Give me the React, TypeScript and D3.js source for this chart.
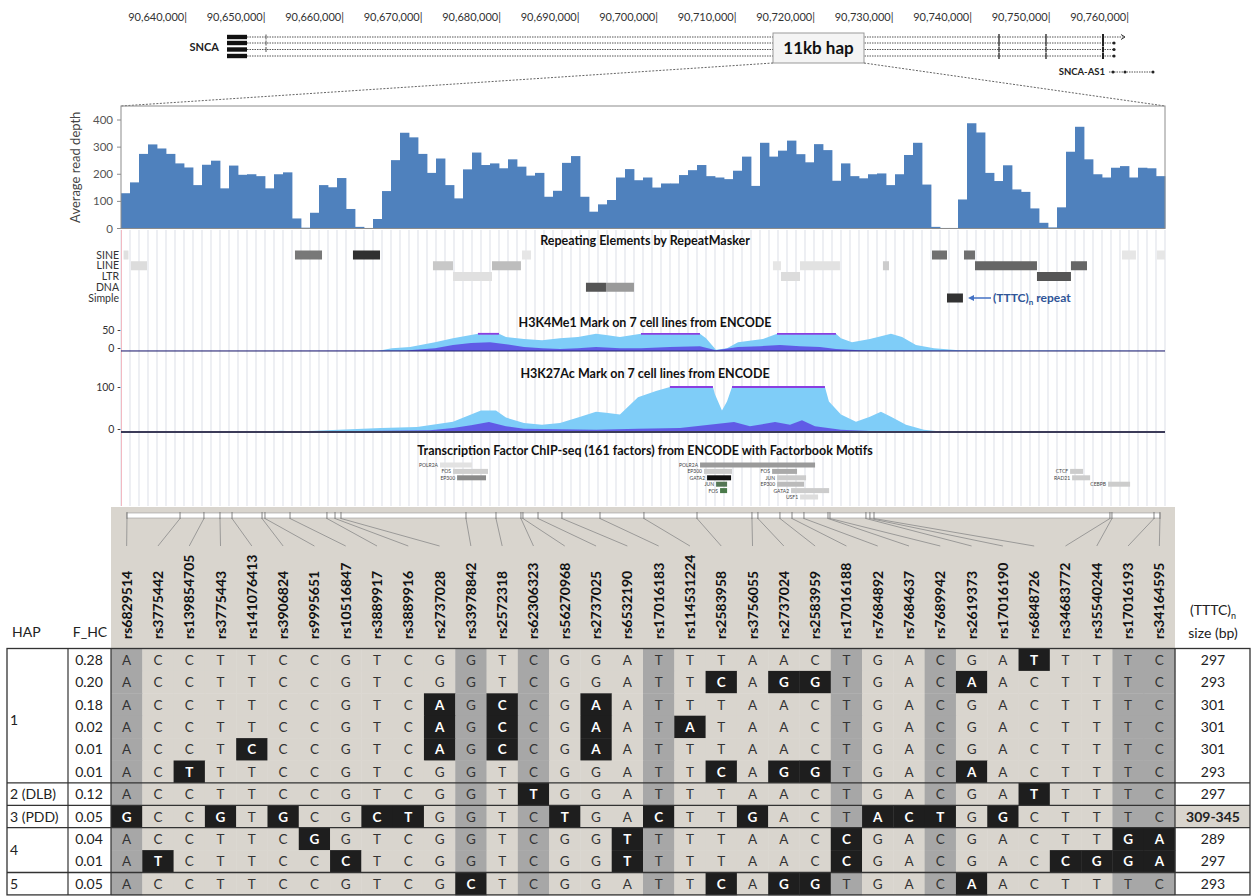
import React from 'react';
import * as d3 from 'd3';

const FONT = 'Lato, "Open Sans", "DejaVu Sans", sans-serif';
const W = 1251;
const H = 896;

// genome ruler (chr4)
const rulerTicks = [90640000, 90650000, 90660000, 90670000, 90680000, 90690000, 90700000,
  90710000, 90720000, 90730000, 90740000, 90750000, 90760000];
const geneLineY = [37, 43, 49.5, 56];
const sncaExon = [90645096, 90647643];
const sncaSmallTick = 90650064;
const sncaExons = [90743439, 90749427, 90756688];
const sncaEnds = [90759490, 90758089, 90758089, 90758089];
const sncaAs1 = [90757452, 90763057];
const sncaAs1Dots = [90757962, 90759490, 90763057];
const hapBox = [90714650, 90726242];

// average read depth, one bar per ~95 bp bin across the 11 kb window
const depth = [130, 170, 275, 310, 295, 275, 240, 225, 160, 235, 250, 148, 232, 198, 200, 193, 148, 200, 207, 37,
  3, 58, 160, 152, 186, 72, 6, 2, 35, 138, 252, 353, 336, 275, 205, 258, 160, 111, 218, 280,
  234, 240, 222, 255, 228, 195, 205, 117, 139, 242, 267, 117, 62, 89, 105, 188,
  219, 178, 188, 151, 166, 166, 197, 215, 234, 193, 188, 182, 213, 265, 157, 316, 265, 287, 324, 274,
  244, 311, 289, 176, 240, 193, 185, 200, 203, 160, 200, 271, 316, 162, 6, 2, 2, 107, 388, 354,
  205, 175, 233, 144, 135, 74, 21, 4, 78, 283, 375, 255, 200, 188, 224, 230, 188, 224, 222, 193];
const depthTicks = [0, 100, 200, 300, 400];

// RepeatMasker
const repeatClasses = ['SINE', 'LINE', 'LTR', 'DNA', 'Simple'];
const repeats: [string, number, number, string][] = [
  ['SINE', 27, 79, '#e0e0e0'], ['LINE', 105, 274, '#dcdcdc'], ['SINE', 1833, 2118, '#787878'],
  ['SINE', 2444, 2729, '#303030'], ['LINE', 3287, 3498, '#c8c8c8'], ['LTR', 3498, 3909, '#e0e0e0'],
  ['LINE', 3909, 4214, '#bdbdbd'], ['SINE', 4225, 4320, '#e6e6e6'], ['DNA', 4899, 5110, '#555555'],
  ['DNA', 5110, 5405, '#9a9a9a'], ['LINE', 6869, 6954, '#e6e6e6'], ['LTR', 6954, 7154, '#dcdcdc'],
  ['LINE', 7154, 7575, '#e2e2e2'], ['LINE', 8028, 8092, '#cccccc'], ['SINE', 8545, 8703, '#707070'],
  ['SINE', 8882, 8998, '#707070'], ['LINE', 8998, 9651, '#666666'], ['LTR', 9651, 10009, '#555555'],
  ['LINE', 10009, 10178, '#666666'], ['Simple', 8703, 8871, '#333333'], ['SINE', 10547, 10694, '#e6e6e6'],
  ['SINE', 10915, 11000, '#e6e6e6'],
];

// H3K4Me1 overlay (bp, signal)
const k4Light: [number, number][] = [[0, 0], [2700, 0], [2855, 7], [3045, 10], [3308, 22], [3498, 32], [3688, 40],
  [3761, 43], [3983, 43], [4056, 35], [4246, 30], [4436, 27], [4625, 32], [4815, 35], [5005, 43], [5110, 40],
  [5257, 35], [5479, 43], [6100, 43], [6164, 32], [6269, 3], [6385, 7], [6501, 22], [6764, 30], [6912, 43],
  [7533, 43], [7586, 32], [7702, 22], [7891, 30], [8113, 43], [8229, 35], [8376, 15], [8566, 7], [8829, 2],
  [9200, 1], [10000, 1], [11000, 0]];
const k4Dark: [number, number][] = [[0, 0.5], [3000, 1], [3308, 7], [3498, 15], [3688, 20], [3888, 22], [4056, 17],
  [4246, 10], [4436, 7], [4625, 5], [4815, 7], [5005, 10], [5257, 7], [5479, 7], [5784, 10], [6100, 12],
  [6269, 2], [6501, 10], [6733, 12], [6943, 15], [7154, 12], [7365, 10], [7533, 5], [7786, 2], [8000, 1],
  [11000, 0.5]];
const k4Clip = 43;

// H3K27Ac overlay
const k27Light: [number, number][] = [[0, 1], [1500, 1], [1686, 3], [1850, 1], [2739, 9], [3119, 11], [3498, 23],
  [3688, 39], [3793, 48], [3951, 48], [4056, 32], [4246, 20], [4436, 16], [4625, 20], [4815, 32], [5005, 45],
  [5110, 43], [5257, 39], [5447, 77], [5637, 91], [5784, 100], [6237, 100], [6258, 84], [6332, 48], [6385, 68],
  [6438, 100], [7417, 100], [7459, 68], [7586, 39], [7744, 23], [7891, 34], [8007, 45], [8113, 34], [8271, 16],
  [8460, 5], [8639, 1], [9500, 2], [10000, 1], [11000, 1]];
const k27Dark: [number, number][] = [[0, 2], [2500, 2], [3256, 4], [3498, 9], [3688, 15], [3877, 22], [4056, 13],
  [4246, 7], [4625, 6], [5005, 5], [5447, 7], [5890, 9], [6459, 22], [6627, 13], [6891, 22], [7049, 16],
  [7175, 26], [7312, 13], [7586, 5], [7891, 2], [11000, 1]];
const k27Clip = 100;

// TF ChIP-seq clusters: name, start, end, row, colour
const tfBars: [string, number, number, number, string][] = [
  ['POLR2A', 3361, 3699, 0, '#e2e2e2'], ['FOS', 3498, 3867, 1, '#cfcfcf'], ['EP300', 3541, 3846, 2, '#8a8a8a'],
  ['POLR2A', 6101, 7313, 0, '#9a9a9a'], ['EP300', 6143, 6438, 1, '#cccccc'], ['GATA2', 6175, 6428, 2, '#111111'],
  ['JUN', 6270, 6386, 3, '#557755'], ['FOS', 6312, 6386, 4, '#4a7a4a'], ['FOS', 6860, 7123, 1, '#aaaaaa'],
  ['JUN', 6913, 7218, 2, '#cccccc'], ['EP300', 6913, 7197, 3, '#bbbbbb'], ['GATA2', 7060, 7461, 4, '#cccccc'],
  ['USF1', 7155, 7345, 5, '#dddddd'], ['CTCF', 10000, 10137, 1, '#cccccc'], ['RAD21', 10021, 10211, 2, '#cccccc'],
  ['CEBPB', 10400, 10632, 3, '#cccccc'],
];

// SNPs of the 11 kb haplotype
const snpNames = ['rs6829514', 'rs3775442', 'rs139854705', 'rs3775443', 'rs141076413', 'rs3906824', 'rs9995651',
  'rs10516847', 'rs3889917', 'rs3889916', 'rs2737028', 'rs33978842', 'rs2572318', 'rs62306323', 'rs56270968',
  'rs2737025', 'rs6532190', 'rs17016183', 'rs114531224', 'rs2583958', 'rs3756055', 'rs2737024', 'rs2583959',
  'rs17016188', 'rs7684892', 'rs7684637', 'rs7689942', 'rs2619373', 'rs17016190', 'rs6848726', 'rs34683772',
  'rs35540244', 'rs17016193', 'rs34164595'];
const snpPos = [63, 622, 874, 1043, 1170, 1486, 1517, 1781, 2170, 2255, 2318, 3635, 3951, 4214, 4235, 4394, 4646,
  5047, 5510, 6069, 6648, 6711, 6943, 7070, 7196, 7449, 7470, 7849, 7891, 7934, 10420, 10441, 10884, 10947];
const shadedCols = [1, 12, 14, 18, 24, 27, 33, 34];

const hapFreq = ['0.28', '0.20', '0.18', '0.02', '0.01', '0.01', '0.12', '0.05', '0.04', '0.01', '0.05'];
const hapSeq = [
  'ACCTTCCGTCGGTCGGATTTAACTGACGATTTTC',
  'ACCTTCCGTCGGTCGGATTCAGGTGACAACTTTC',
  'ACCTTCCGTCAGCCGAATTTAACTGACGACTTTC',
  'ACCTTCCGTCAGCCGAATATAACTGACGACTTTC',
  'ACCTCCCGTCAGCCGAATTTAACTGACGACTTTC',
  'ACTTTCCGTCGGTCGGATTCAGGTGACAACTTTC',
  'ACCTTCCGTCGGTTGGATTTAACTGACGATTTTC',
  'GCCGTGCGCTGGTCTGACTTGACTACTGGCTTTC',
  'ACCTTCGGTCGGTCGGTTTTAACCGACGACTTGA',
  'ATCTTCCCTCGGTCGGTTTTAACCGACGACCGGA',
  'ACCTTCCGTCGCTCGGATTCAGGTGACAACTTTC',
];
const hapAlt = [
  [30], [20, 22, 23, 28], [11, 13, 16], [11, 13, 16, 19], [5, 11, 13, 16], [3, 20, 22, 23, 28],
  [14, 30], [1, 4, 6, 9, 10, 15, 18, 21, 25, 26, 27, 29], [7, 17, 24, 33, 34],
  [2, 8, 17, 24, 31, 32, 33, 34], [12, 20, 22, 23, 28],
];
const tttcSize = ['297', '293', '301', '301', '301', '293', '297', '309-345', '289', '297', '293'];
const hapGroups = [
  { label: '1', from: 0, to: 5 }, { label: '2 (DLB)', from: 6, to: 6 }, { label: '3 (PDD)', from: 7, to: 7 },
  { label: '4', from: 8, to: 9 }, { label: '5', from: 10, to: 10 },
];

const clipRuns = (pts: [number, number][], clip: number) => {
  const runs: [number, number][] = [];
  let start: number | null = null;
  pts.forEach((p, i) => {
    if (p[1] >= clip) {
      if (start === null) start = p[0];
      if (i === pts.length - 1 || pts[i + 1][1] < clip) {
        runs.push([start, p[0]]);
        start = null;
      }
    }
  });
  return runs;
};

const App = () => {
  const xr = d3.scaleLinear().domain([90640000, 90760000]).range([187, 1129]);
  const xg = d3.scaleLinear().domain([0, 11000]).range([121, 1165]);
  const xb = d3.scaleBand<number>().domain(d3.range(depth.length)).range([121, 1165]);
  const yb = d3.scaleLinear().domain([0, 400]).range([228.5, 120]);
  const k4y = d3.scaleLinear().domain([0, 50]).range([351, 331]);
  const k27y = d3.scaleLinear().domain([0, 100]).range([432, 387]);
  const repY = d3.scalePoint<string>().domain(repeatClasses).range([255, 298]);
  const tfY = d3.scaleLinear().domain([0, 5]).range([465, 497]);

  const tableTop = 648.5;
  const rowH = 22.4;
  const xc = d3.scaleBand<string>().domain(snpNames).range([111, 1175]);
  const rowY = (i: number) => tableTop + i * rowH;
  const tableBottom = rowY(hapSeq.length);

  const areaFn = (ys: d3.ScaleLinear<number, number>) =>
    d3.area<[number, number]>().x((d) => xg(d[0])).y0(ys(0)).y1((d) => ys(d[1]));

  const lightBlue = '#7fcdf8';
  const violet = '#5d4fe3';
  const clipColor = '#8a3fe0';
  const cellLight = '#d9d5ce';
  const cellDark = '#a7a7a7';

  return (
    <div style={{ position: 'absolute', left: 0, top: 0, background: '#fff' }}>
      <svg width={W} height={H} viewBox={`0 0 ${W} ${H}`} style={{ display: 'block', fontFamily: FONT }}>
        <rect x={0} y={0} width={W} height={H} fill="#fff" />

        {/* ruler */}
        {rulerTicks.map((t) => (
          <text key={t} x={xr(t)} y={21} fontSize={11} textAnchor="end" fill="#333">
            {d3.format(',')(t)}|
          </text>
        ))}

        {/* gene track */}
        <text x={219} y={51} fontSize={11} fontWeight="bold" textAnchor="end" fill="#222">SNCA</text>
        {geneLineY.map((y, i) => (
          <g key={y}>
            <line x1={xr(sncaExon[1])} x2={xr(sncaEnds[i])} y1={y} y2={y} stroke="#555" strokeWidth={1} strokeDasharray="1.5 1" />
            <rect x={xr(sncaExon[0])} y={y - 2.2} width={xr(sncaExon[1]) - xr(sncaExon[0])} height={4.4} fill="#111" />
            {i < 3 && <line x1={xr(sncaSmallTick)} x2={xr(sncaSmallTick)} y1={y - 2.5} y2={y + 2.5} stroke="#555" />}
            {sncaExons.map((e, j) => (
              <line key={e} x1={xr(e)} x2={xr(e)} y1={y - 3} y2={y + 3} stroke="#222" strokeWidth={j === 2 ? 2 : 1.3} />
            ))}
            {i === 0
              ? <path d={`M${xr(sncaEnds[i]) - 4},${y - 2.5} L${xr(sncaEnds[i])},${y} L${xr(sncaEnds[i]) - 4},${y + 2.5}`} fill="none" stroke="#333" />
              : <circle cx={xr(sncaEnds[i])} cy={y} r={1.6} fill="#222" />}
          </g>
        ))}
        <text x={xr(sncaAs1[0]) - 4} y={75} fontSize={9.5} fontWeight="bold" textAnchor="end" fill="#222">SNCA-AS1</text>
        <line x1={xr(sncaAs1[0])} x2={xr(sncaAs1[1])} y1={72} y2={72} stroke="#555" strokeDasharray="1.5 1" />
        {sncaAs1Dots.map((d) => <circle key={d} cx={xr(d)} cy={72} r={1.5} fill="#222" />)}

        {/* 11kb hap box and projection */}
        <rect x={xr(hapBox[0])} y={33} width={xr(hapBox[1]) - xr(hapBox[0])} height={30} fill="#f4f4f4" stroke="#999" />
        <text x={(xr(hapBox[0]) + xr(hapBox[1])) / 2} y={54} fontSize={17} fontWeight="bold" textAnchor="middle" fill="#111">11kb hap</text>
        <line x1={xr(hapBox[0])} y1={63} x2={xg(0)} y2={106} stroke="#666" strokeDasharray="2 1.5" />
        <line x1={xr(hapBox[1])} y1={63} x2={xg(11000)} y2={106} stroke="#666" strokeDasharray="2 1.5" />

        {/* read depth */}
        {depth.map((v, i) => (
          <rect key={i} x={xb(i)} y={yb(v)} width={xb.bandwidth() + 0.4} height={yb(0) - yb(v)} fill="#4f81bd" />
        ))}
        <rect x={121} y={106} width={1044} height={yb(0) - 106} fill="none" stroke="#8c8c8c" />
        {depthTicks.map((t) => (
          <g key={t}>
            <line x1={117} x2={121} y1={yb(t)} y2={yb(t)} stroke="#8c8c8c" />
            <text x={113} y={yb(t) + 4} fontSize={11.5} textAnchor="end" fill="#555">{t}</text>
          </g>
        ))}
        <text transform={`translate(80,${(106 + yb(0)) / 2}) rotate(-90)`} fontSize={13} textAnchor="middle" fill="#444">Average read depth</text>

        {/* browser guide lines */}
        {d3.range(depth.length + 1).map((i) => (
          <line key={i} x1={121 + i * xb.step()} x2={121 + i * xb.step()} y1={230} y2={506} stroke="#e2e4eb" strokeWidth={1.2} />
        ))}
        <line x1={121.5} x2={121.5} y1={230} y2={506} stroke="#f2b9c2" />

        {/* RepeatMasker */}
        <text x={645} y={245} fontSize={12.5} fontWeight="bold" textAnchor="middle" fill="#111">Repeating Elements by RepeatMasker</text>
        {repeatClasses.map((c) => (
          <text key={c} x={119} y={(repY(c) ?? 0) + 3.5} fontSize={10.5} textAnchor="end" fill="#333">{c}</text>
        ))}
        {repeats.map(([c, s, e, col], i) => (
          <rect key={i} x={xg(s)} y={(repY(c) ?? 0) - 4.5} width={xg(e) - xg(s)} height={9} fill={col} />
        ))}
        <line x1={991} x2={970} y1={298} y2={298} stroke="#4472c4" strokeWidth={1.5} />
        <path d="M968,298 L974,295 L974,301 Z" fill="#4472c4" />
        <text x={993} y={302} fontSize={12} fontWeight="bold" fill="#2f5597">
          (TTTC)<tspan fontSize={8} dy={3}>n</tspan><tspan dy={-3}> repeat</tspan>
        </text>

        {/* H3K4Me1 */}
        <text x={645} y={327} fontSize={12.5} fontWeight="bold" textAnchor="middle" fill="#111">H3K4Me1 Mark on 7 cell lines from ENCODE</text>
        <text x={121} y={k4y(50) + 3} fontSize={10.5} textAnchor="end" fill="#333">50 -</text>
        <text x={121} y={k4y(0) + 1} fontSize={10.5} textAnchor="end" fill="#333">0 -</text>
        <path d={areaFn(k4y)(k4Light) ?? ''} fill={lightBlue} />
        <path d={areaFn(k4y)(k4Dark) ?? ''} fill={violet} opacity={0.9} />
        {clipRuns(k4Light, k4Clip).map(([s, e], i) => (
          <line key={i} x1={xg(s)} x2={xg(e)} y1={k4y(k4Clip)} y2={k4y(k4Clip)} stroke={clipColor} strokeWidth={1.8} />
        ))}
        <line x1={121} x2={1165} y1={k4y(0)} y2={k4y(0)} stroke="#23236b" strokeWidth={1.2} />

        {/* H3K27Ac */}
        <text x={645} y={378} fontSize={12.5} fontWeight="bold" textAnchor="middle" fill="#111">H3K27Ac Mark on 7 cell lines from ENCODE</text>
        <text x={121} y={k27y(100) + 4} fontSize={10.5} textAnchor="end" fill="#333">100 -</text>
        <text x={121} y={k27y(0) + 1} fontSize={10.5} textAnchor="end" fill="#333">0 -</text>
        <path d={areaFn(k27y)(k27Light) ?? ''} fill={lightBlue} />
        <path d={areaFn(k27y)(k27Dark) ?? ''} fill={violet} opacity={0.9} />
        {clipRuns(k27Light, k27Clip).map(([s, e], i) => (
          <line key={i} x1={xg(s)} x2={xg(e)} y1={k27y(k27Clip)} y2={k27y(k27Clip)} stroke={clipColor} strokeWidth={1.8} />
        ))}
        <line x1={121} x2={1165} y1={k27y(0)} y2={k27y(0)} stroke="#3b3b58" strokeWidth={2} />

        {/* TF ChIP-seq */}
        <text x={645} y={455} fontSize={12.5} fontWeight="bold" textAnchor="middle" fill="#111">Transcription Factor ChIP-seq (161 factors) from ENCODE with Factorbook Motifs</text>
        {tfBars.map(([name, s, e, r, col], i) => (
          <g key={i}>
            <rect x={xg(s)} y={tfY(r) - 2.5} width={xg(e) - xg(s)} height={5} fill={col} />
            <text x={xg(s) - 2} y={tfY(r) + 2} fontSize={5} textAnchor="end" fill="#444">{name}</text>
          </g>
        ))}

        {/* SNP header */}
        <rect x={111} y={507} width={1064} height={tableTop - 507} fill={cellLight} />
        <rect x={xg(snpPos[0])} y={513} width={xg(snpPos[snpPos.length - 1]) - xg(snpPos[0])} height={5} fill="#fff" stroke="#9a9a9a" strokeWidth={0.6} />
        {snpPos.map((p, i) => (
          <g key={i}>
            <line x1={xg(p)} x2={xg(p)} y1={512} y2={519} stroke="#666" strokeWidth={0.8} />
            <line x1={xg(p)} y1={518.5} x2={(xc(snpNames[i]) ?? 0) + xc.bandwidth() / 2} y2={546} stroke="#8a8a8a" strokeWidth={0.8} />
          </g>
        ))}
        {snpNames.map((n) => (
          <text key={n} transform={`translate(${(xc(n) ?? 0) + xc.bandwidth() / 2 + 5},639) rotate(-90)`} fontSize={14} fontWeight="bold" fill="#111">{n}</text>
        ))}
        <text x={12} y={637} fontSize={14} fill="#222">HAP</text>
        <text x={90} y={637} fontSize={14} textAnchor="middle" fill="#222">F_HC</text>
        <text x={1213} y={615} fontSize={14} textAnchor="middle" fill="#222">
          (TTTC)<tspan fontSize={9} dy={4}>n</tspan>
        </text>
        <text x={1213} y={638} fontSize={14} textAnchor="middle" fill="#222">size (bp)</text>

        {/* haplotype table */}
        {hapSeq.map((seq, r) => (
          <g key={r}>
            {seq.split('').map((b, c) => {
              const col = c + 1;
              const alt = hapAlt[r].includes(col);
              const fill = alt ? '#1e1e1e' : shadedCols.includes(col) ? cellDark : cellLight;
              const x = xc(snpNames[c]) ?? 0;
              return (
                <g key={c}>
                  <rect x={x} y={rowY(r)} width={xc.bandwidth() + 0.4} height={rowH + 0.4} fill={fill} />
                  <text x={x + xc.bandwidth() / 2} y={rowY(r) + rowH / 2 + 5} fontSize={13.5} textAnchor="middle"
                    fontWeight={alt ? 'bold' : 'normal'} fill={alt ? '#fff' : '#333'}>{b}</text>
                </g>
              );
            })}
            <text x={89} y={rowY(r) + rowH / 2 + 5} fontSize={14} textAnchor="middle" fill="#222">{hapFreq[r]}</text>
            {r === 7 && <rect x={1175} y={rowY(r)} width={75} height={rowH} fill={cellLight} />}
            <text x={1213} y={rowY(r) + rowH / 2 + 5} fontSize={14} textAnchor="middle" fontWeight={r === 7 ? 'bold' : 'normal'} fill="#222">{tttcSize[r]}</text>
          </g>
        ))}
        {hapGroups.map((g) => (
          <g key={g.label}>
            <text x={10} y={(rowY(g.from) + rowY(g.to + 1)) / 2 + (g.from === 0 ? 9 : 5)} fontSize={14} fill="#222">{g.label}</text>
            {g.from > 0 && <line x1={7} x2={1250} y1={rowY(g.from)} y2={rowY(g.from)} stroke="#333" strokeWidth={1.3} />}
          </g>
        ))}
        <rect x={7} y={tableTop} width={1243} height={tableBottom - tableTop} fill="none" stroke="#333" strokeWidth={1.3} />
        {[68, 111, 1175].map((x) => (
          <line key={x} x1={x} x2={x} y1={tableTop} y2={tableBottom} stroke="#333" strokeWidth={1.2} />
        ))}
      </svg>
    </div>
  );
};

export default App;
